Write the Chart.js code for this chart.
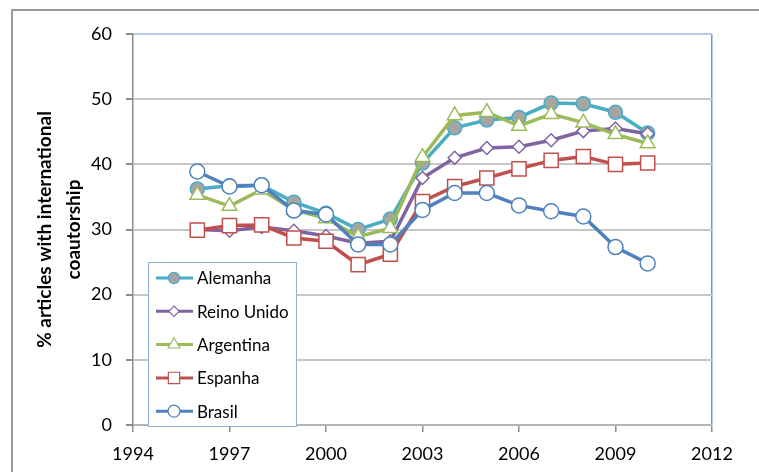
<!DOCTYPE html>
<html>
<head>
<meta charset="utf-8">
<script src="https://cdn.jsdelivr.net/npm/chart.js@4.4.1/dist/chart.umd.min.js"></script>
<style>
  html, body { margin: 0; padding: 0; background: #fff; }
  #wrap { position: relative; width: 759px; height: 472px; }
  #frame { position: absolute; left: 11px; top: 9px; right: 0; bottom: 0;
           border-top: 2px solid #9a9a9a; border-left: 2px solid #9a9a9a; }
  canvas { position: absolute; left: 0; top: 0; }
</style>
</head>
<body>
<div id="wrap">
  <div id="frame"></div>
  <canvas id="chart" width="759" height="472"></canvas>
</div>
<script>
// % of articles with international coautorship, by country
const years = [1996, 1997, 1998, 1999, 2000, 2001, 2002, 2003, 2004, 2005, 2006, 2007, 2008, 2009, 2010];

const alemanha   = [36.2, 36.7, 36.8, 34.2, 32.5, 30.0, 31.6, 40.2, 45.6, 46.8, 47.2, 49.4, 49.3, 48.0, 44.8];
const reinoUnido = [30.0, 29.8, 30.4, 29.8, 29.0, 27.9, 28.2, 37.9, 41.0, 42.5, 42.7, 43.7, 45.1, 45.5, 44.7];
const argentina  = [35.3, 33.6, 36.1, 33.0, 31.7, 28.9, 30.2, 41.1, 47.5, 48.0, 45.9, 47.7, 46.4, 44.6, 43.2];
const espanha    = [29.9, 30.6, 30.7, 28.7, 28.2, 24.6, 26.2, 34.3, 36.6, 37.9, 39.3, 40.6, 41.2, 40.0, 40.2];
const brasil     = [38.9, 36.6, 36.8, 32.9, 32.3, 27.7, 27.7, 33.0, 35.6, 35.6, 33.7, 32.8, 32.0, 27.3, 24.8];

const xTicks = [1994, 1997, 2000, 2003, 2006, 2009, 2012];
const yTitle = ['% articles with international', 'coautorship'];

const FONT = 'Lato';

function series(label, values, color, fill, style, radius, order) {
  return {
    label: label,
    data: years.map((yr, i) => ({ x: yr, y: values[i] })),
    borderColor: color,
    borderWidth: 3.5,
    pointStyle: style,
    pointRadius: radius,
    pointBorderWidth: 1.5,
    pointBorderColor: color,
    pointBackgroundColor: fill,
    tension: 0,
    fill: false,
    order: order
  };
}

// legend box drawn inside the plot, bottom-left
const legendBox = {
  id: 'legendBox',
  afterDraw(chart) {
    const { ctx, chartArea } = chart;
    const w = 148, h = 164;
    const x0 = chartArea.left + 15;
    const y0 = chartArea.bottom + 1 - h;
    ctx.save();
    ctx.fillStyle = '#fff';
    ctx.fillRect(x0, y0, w, h);
    ctx.strokeStyle = '#8fb0d8';
    ctx.lineWidth = 1;
    ctx.strokeRect(x0 + 0.5, y0 + 0.5, w, h);

    chart.data.datasets.forEach((ds, i) => {
      const cy = y0 + 16 + i * 33.3;
      ctx.strokeStyle = ds.borderColor;
      ctx.lineWidth = 3;
      ctx.beginPath();
      ctx.moveTo(x0 + 8, cy);
      ctx.lineTo(x0 + 45, cy);
      ctx.stroke();

      ctx.fillStyle = ds.pointBackgroundColor;
      ctx.strokeStyle = ds.pointBorderColor;
      ctx.lineWidth = 1.2;
      Chart.helpers.drawPoint(ctx, {
        pointStyle: ds.pointStyle,
        radius: ds.pointRadius * 0.8,
        borderWidth: 1.2,
        rotation: 0
      }, x0 + 26, cy);

      ctx.fillStyle = '#000';
      ctx.font = '17px ' + FONT;
      ctx.textBaseline = 'middle';
      ctx.textAlign = 'left';
      ctx.fillText(ds.label, x0 + 49, cy + 1);
    });
    ctx.restore();
  }
};

new Chart(document.getElementById('chart'), {
  type: 'line',
  data: {
    datasets: [
      series('Alemanha', alemanha, '#4bacc6', '#a5a5a5', 'circle', 7, 5),
      series('Reino Unido', reinoUnido, '#8064a2', '#ffffff', 'rectRot', 6.5, 4),
      series('Argentina', argentina, '#9bbb59', '#ffffff', 'triangle', 8.5, 3),
      series('Espanha', espanha, '#c0504d', '#ffffff', 'rect', 10, 2),
      series('Brasil', brasil, '#4f81bd', '#ffffff', 'circle', 7.5, 1)
    ]
  },
  options: {
    responsive: false,
    animation: false,
    devicePixelRatio: 1,
    layout: { padding: { top: 34, right: 47, left: 0, bottom: 0 } },
    plugins: {
      legend: { display: false },
      tooltip: { enabled: false }
    },
    scales: {
      x: {
        type: 'linear',
        min: xTicks[0],
        max: xTicks[xTicks.length - 1],
        afterBuildTicks: s => { s.ticks = xTicks.map(v => ({ value: v })); },
        afterFit: s => { s.height = 47; },
        ticks: {
          padding: 11,
          color: '#000',
          font: { family: FONT, size: 18 },
          callback: v => String(v),
          maxRotation: 0
        },
        grid: {
          color: c => (c.tick && c.tick.value === 2012) ? '#6f95c8' : 'rgba(0,0,0,0)',
          lineWidth: 1.5,
          tickColor: '#8c8c8c',
          tickLength: 7
        },
        border: { color: '#b5b5b5', width: 2 }
      },
      y: {
        min: 0,
        max: 60,
        afterFit: s => { s.width = 133; },
        ticks: {
          stepSize: 10,
          padding: 14,
          color: '#000',
          font: { family: FONT, size: 18 }
        },
        grid: {
          color: c => (c.tick && c.tick.value === 60) ? '#b4cbe6' : '#c6c6c6',
          lineWidth: 2,
          tickColor: '#8c8c8c',
          tickLength: 7
        },
        border: { color: '#8c8c8c', width: 1.5 },
        title: {
          display: true,
          text: yTitle,
          color: '#000',
          font: { family: FONT, size: 19, weight: 'bold', lineHeight: 1.55 },
          padding: { top: 30, bottom: 0 }
        }
      }
    }
  },
  plugins: [legendBox]
});
</script>
</body>
</html>
